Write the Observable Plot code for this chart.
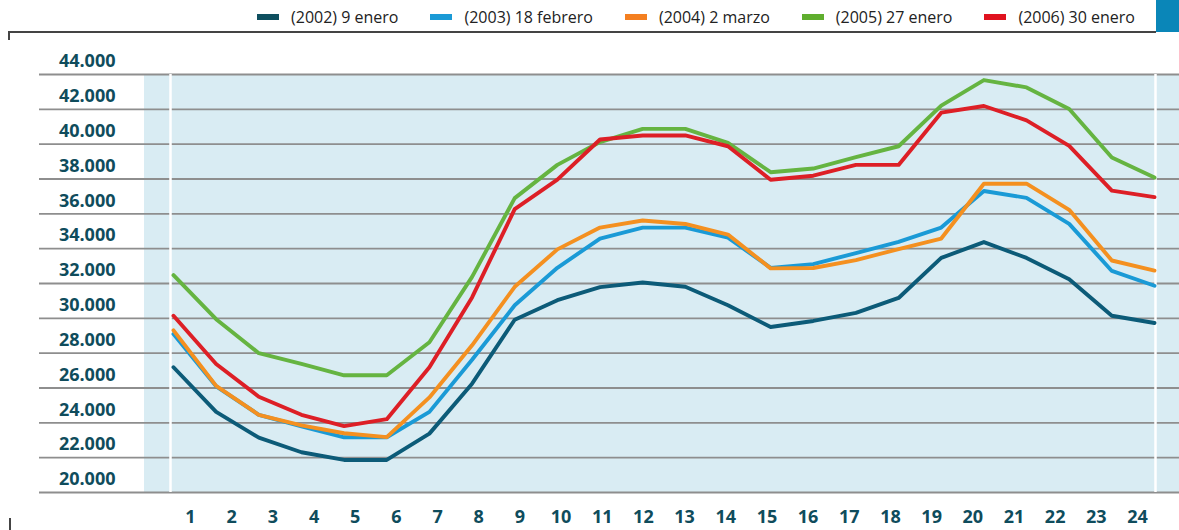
<!DOCTYPE html>
<html><head><meta charset="utf-8">
<script src="https://cdn.jsdelivr.net/npm/d3@7"></script>
<script src="https://cdn.jsdelivr.net/npm/@observablehq/plot@0.6"></script>
<style>
body{margin:0;background:#fff;font-family:"Open Sans",sans-serif;}
#wrap{position:relative;width:1179px;height:530px;overflow:hidden;}
#legend{position:absolute;top:0;right:44px;height:33px;display:flex;align-items:center;gap:32px;font-size:16px;color:#222;white-space:nowrap;}
.item{display:flex;align-items:center;gap:12px;}
.sw{width:22px;height:6px;}
#topline{position:absolute;left:8px;top:31px;width:1148px;height:2px;background:#444;}
#corner{position:absolute;left:8px;top:31px;width:2px;height:9px;background:#444;}
#block{position:absolute;left:1156px;top:0;width:23px;height:32px;background:#0a86b8;}
#tick{position:absolute;left:9px;top:518px;width:2px;height:12px;background:#444;}
#main{position:absolute;left:0;top:35px;}
#xaxis{position:absolute;left:0;top:495px;}
</style>
</head>
<body>
<div id="wrap">
  <div id="legend"></div>
  <div id="topline"></div>
  <div id="corner"></div>
  <div id="block"></div>
  <div id="tick"></div>
  <div id="main"></div>
  <div id="xaxis"></div>
</div>
<script>
const hours = [1,2,3,4,5,6,7,8,9,10,11,12,13,14,15,16,17,18,19,20,21,22,23,24];
const series = ["(2002) 9 enero", "(2003) 18 febrero", "(2004) 2 marzo", "(2005) 27 enero", "(2006) 30 enero"];
const colors = ["#0c5b78", "#1a9ad6", "#f49020", "#65b441", "#dd1f26"];
const swatchColors = ["#0e4f5f", "#1a9ad6", "#f47f20", "#5fae2e", "#e0121f"];
const v2002 = [27190,24630,23150,22310,21870,21870,23380,26250,29920,31040,31790,32060,31810,30750,29500,29850,30310,31170,33470,34380,33470,32250,30150,29730];
const v2003 = [29100,26100,24460,23800,23170,23170,24630,27620,30750,32900,34580,35210,35210,34630,32900,33110,33750,34390,35210,37310,36920,35420,32720,31870];
const v2004 = [29310,26120,24460,23850,23400,23180,25460,28450,31810,33960,35210,35620,35420,34810,32870,32890,33340,33980,34580,37730,37730,36230,33320,32740];
const v2005 = [32480,29950,28000,27380,26730,26730,28630,32380,36900,38810,40120,40880,40880,40080,38390,38600,39250,39880,42210,43680,43260,42020,39230,38080];
const v2006 = [30150,27380,25500,24460,23810,24210,27190,31200,36270,37960,40270,40500,40500,39880,37960,38190,38810,38810,41810,42190,41370,39900,37330,36960];
const yTicks = [20000,22000,24000,26000,28000,30000,32000,34000,36000,38000,40000,42000,44000];

const values = [v2002, v2003, v2004, v2005, v2006];
const rows = series.flatMap((s, i) => values[i].map((v, j) => ({series: s, hour: hours[j], value: v})));

// legend
const legend = document.getElementById("legend");
series.forEach((s, i) => {
  const it = document.createElement("div");
  it.className = "item";
  it.innerHTML = `<span class="sw" style="background:${swatchColors[i]}"></span><span>${s}</span>`;
  legend.appendChild(it);
});

const fmt = d3.formatLocale({decimal: ",", thousands: ".", grouping: [3], currency: ["", ""]}).format(",");
const W = 1179;
const xs = Plot.scale({x: {domain: [1, 24], range: [173, W - 25]}});
const labelColor = "#0f4c5c";

const main = Plot.plot({
  width: W, height: 460,
  marginTop: 39, marginBottom: 3, marginLeft: 173, marginRight: 25,
  x: {domain: [1, 24], axis: null},
  y: {domain: [20000, 44000], axis: null},
  color: {domain: series, range: colors},
  style: {background: "transparent", overflow: "visible", fontFamily: "Open Sans"},
  marks: [
    Plot.rect([0], {x1: xs.invert(144), x2: xs.invert(W), y1: 20000, y2: 44000, fill: "#d9ecf3"}),
    Plot.ruleY(yTicks, {x1: xs.invert(39), x2: xs.invert(W), stroke: "#8e8e8e", strokeWidth: 1.8}),
    Plot.ruleX([xs.invert(170), xs.invert(1155)], {y1: 20000, y2: 44000, stroke: "white", strokeWidth: 2.5}),
    Plot.line(rows, {x: "hour", y: "value", z: "series", stroke: "series", strokeWidth: 3.9}),
    Plot.axisY(yTicks, {anchor: "left", tickSize: 0, tickPadding: 58, dy: -13, tickFormat: fmt,
      fontSize: 18, fontWeight: "bold", fill: labelColor, label: null})
  ]
});
document.getElementById("main").appendChild(main);

const xaxis = Plot.plot({
  width: W, height: 35,
  marginTop: 0, marginBottom: 35, marginLeft: 190, marginRight: W - 1137,
  x: {domain: [1, 24]},
  style: {background: "transparent", overflow: "visible", fontFamily: "Open Sans"},
  marks: [
    Plot.axisX(hours, {anchor: "bottom", tickSize: 0, tickPadding: 15, tickFormat: d => String(d),
      fontSize: 18, fontWeight: "bold", fill: labelColor, label: null})
  ]
});
document.getElementById("xaxis").appendChild(xaxis);
</script>
</body></html>
